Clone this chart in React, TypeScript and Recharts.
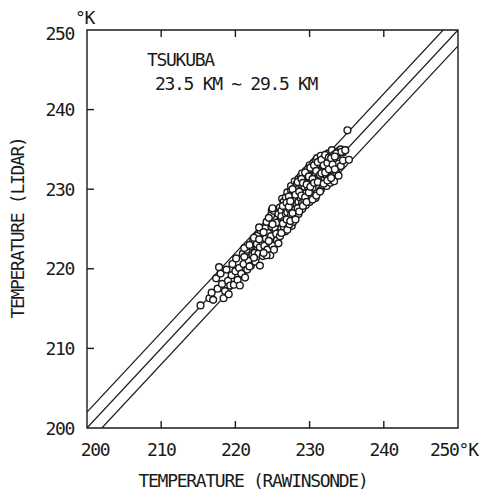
import React from 'react';
import { ScatterChart, Scatter, XAxis, YAxis, ReferenceArea } from 'recharts';

const AXIS_MIN = 200;
const AXIS_MAX = 250;
const TICKS = [200, 210, 220, 230, 240, 250];
const LINE_OFFSETS = [2, 0, -2];

const TITLE = 'TSUKUBA';
const SUBTITLE = '23.5 KM \u223C 29.5 KM';
const X_TITLE = 'TEMPERATURE (RAWINSONDE)';
const Y_TITLE = 'TEMPERATURE (LIDAR)';

// rawinsonde temperature (K)
const RAWIN: number[] = [
  215.3, 216.5, 216.8, 217.0, 217.4, 217.6, 217.8, 218.0, 218.2, 218.4, 218.6, 218.8, 219.0, 219.1, 219.3,
  219.5, 219.6, 219.8, 220.0, 220.1, 220.3, 220.5, 220.6, 220.8, 221.0, 221.1, 221.3, 221.5, 221.6, 221.8,
  222.0, 222.1, 222.3, 222.4, 222.6, 222.7, 222.9, 223.0, 223.1, 223.3, 223.4, 223.6, 223.7, 223.9, 224.0,
  224.1, 224.3, 224.4, 224.6, 224.7, 224.9, 225.0, 225.1, 225.3, 225.4, 225.6, 225.7, 225.9, 226.0, 224.9,
  223.3, 224.7,
  224.2, 224.2, 224.8, 224.8, 225.2, 225.2, 225.5, 225.5, 225.8, 225.8, 226.0, 226.0, 226.3, 226.3, 226.7, 226.7,
  227.1, 227.1, 227.6, 227.6, 227.9, 227.9,
  226.2, 226.2, 226.2, 226.2, 226.5, 226.5, 226.5, 226.8, 226.8, 226.8, 226.8,
  227.0, 227.0, 227.0, 227.0, 227.3, 227.3, 227.3, 227.3, 227.5, 227.5, 227.5, 227.5,
  227.8, 227.8, 227.8, 227.8, 228.0, 228.0, 228.0, 228.0, 228.0, 228.3, 228.3, 228.3, 228.3,
  228.5, 228.5, 228.5, 228.5, 228.5, 228.8, 228.8, 228.8, 228.8, 229.0, 229.0, 229.0, 229.0, 229.0,
  229.3, 229.3, 229.3, 229.3, 229.5, 229.5, 229.5, 229.5, 229.5, 229.8, 229.8, 229.8, 229.8,
  230.0, 230.0, 230.0, 230.0, 230.0, 230.3, 230.3, 230.3, 230.3, 230.5, 230.5, 230.5, 230.5, 230.5,
  230.8, 230.8, 230.8, 230.8, 231.0, 231.0, 231.0, 231.0, 231.0, 231.3, 231.3, 231.3, 231.3,
  231.5, 231.5, 231.5, 231.5, 231.8, 231.8, 231.8, 231.8, 232.0, 232.0, 232.0, 232.0, 232.0,
  232.3, 232.3, 232.3, 232.3, 232.5, 232.5, 232.5, 232.8, 232.8, 232.8, 233.0, 233.0, 233.0,
  233.3, 233.3, 233.3, 233.6, 233.6, 233.9, 233.9, 233.9, 234.2, 234.2, 234.5, 234.5, 234.8,
  235.1, 235.3, 233.6, 234.3, 234.8,
  226.4, 226.4, 226.9, 226.9, 227.2, 227.2, 227.4, 227.4, 227.7, 227.7, 228.1, 228.1, 228.4, 228.4,
  228.6, 228.6, 228.9, 228.9, 229.1, 229.1, 229.4, 229.4, 229.6, 229.6, 229.9, 229.9, 230.1, 230.1,
  230.4, 230.4, 230.6, 230.6, 230.9, 230.9, 231.1, 231.1, 231.4, 231.4, 231.6, 231.6, 231.9, 231.9,
  232.1, 232.1, 232.4, 232.4, 232.6, 232.6, 232.9, 232.9, 233.1, 233.4, 233.4,
  221.2, 221.2, 221.9, 221.9, 222.5, 222.5, 223.2, 223.2, 223.8, 223.8, 224.5, 224.5, 225.0, 225.0,
];

// lidar temperature (K)
const LIDAR: number[] = [
  215.4, 216.3, 217.0, 216.1, 218.8, 217.5, 220.2, 219.4, 218.1, 216.3, 217.2, 219.9, 218.5, 216.8, 217.9,
  219.2, 220.6, 218.0, 219.7, 221.3, 218.6, 220.1, 217.9, 219.4, 221.9, 220.6, 218.9, 222.4, 219.9, 221.0,
  222.8, 220.4, 221.7, 223.6, 222.0, 220.9, 223.1, 224.2, 221.9, 222.7, 224.8, 223.4, 221.6, 222.9, 225.1,
  223.8, 222.4, 224.5, 226.0, 223.2, 225.3, 222.9, 224.0, 226.4, 225.0, 223.6, 227.0, 224.6, 226.0, 227.3,
  220.4, 221.7,
  225.9, 221.7, 224.1, 226.7, 222.4, 227.3, 225.8, 224.4, 226.9, 223.2, 224.1, 227.7, 226.2, 228.8, 224.7, 227.0,
  226.0, 228.9, 225.4, 227.7, 229.8, 226.8,
  225.1, 227.3, 226.6, 224.5, 228.4, 226.0, 225.3, 227.6, 229.0, 225.8, 226.9,
  224.9, 228.2, 227.1, 229.6, 226.3, 228.8, 227.5, 225.6, 229.9, 228.0, 226.8, 230.4,
  227.2, 229.3, 225.9, 228.6, 230.1, 228.9, 227.4, 226.5, 231.0, 229.6, 228.1, 227.0, 230.7,
  231.3, 229.0, 226.9, 228.4, 230.0, 229.8, 227.8, 231.6, 228.9, 230.5, 228.3, 232.0, 227.5, 229.4,
  231.1, 229.9, 228.6, 230.3, 232.3, 230.8, 228.0, 229.5, 231.6, 230.2, 231.9, 228.9, 232.6,
  229.3, 231.4, 230.6, 233.0, 228.4, 232.1, 230.0, 231.7, 229.1, 233.3, 231.0, 229.7, 232.5, 230.4,
  231.8, 233.6, 230.1, 228.9, 232.8, 231.3, 229.5, 233.9, 230.7, 232.0, 230.2, 233.1, 231.6,
  234.2, 232.4, 229.9, 231.0, 233.5, 231.9, 230.5, 232.9, 234.0, 232.6, 230.9, 231.4, 233.2,
  233.8, 231.7, 232.3, 230.4, 234.5, 233.0, 231.2, 232.2, 233.7, 230.8, 234.9, 231.6, 232.8,
  233.4, 231.0, 234.3, 234.5, 232.1, 233.2, 234.8, 231.7, 232.9, 235.0, 234.6, 233.6, 234.9,
  237.4, 233.7, 234.5, 234.7, 234.9,
  227.9, 225.7, 228.3, 226.2, 229.1, 227.8, 226.0, 228.5, 230.0, 227.0, 229.3, 226.2, 230.9, 227.6,
  229.7, 227.2, 231.3, 229.2, 227.9, 230.8, 232.1, 229.0, 230.6, 228.4, 231.6, 229.6, 232.7, 230.3,
  228.7, 231.3, 233.0, 230.8, 229.2, 232.3, 233.4, 230.9, 231.8, 229.7, 233.7, 232.0, 230.7, 233.0,
  232.1, 234.3, 233.3, 231.1, 232.5, 234.0, 231.4, 233.9, 233.1, 232.5, 234.1,
  221.5, 222.6, 220.3, 223.0, 223.9, 221.4, 223.7, 225.2, 224.6, 222.0, 226.4, 223.5, 225.6, 227.6,
];

const points = RAWIN.map((x, i) => ({ x, y: LIDAR[i] }));

const lineData = LINE_OFFSETS.map((off) => {
  const x0 = Math.max(AXIS_MIN, AXIS_MIN - off);
  const x1 = Math.min(AXIS_MAX, AXIS_MAX - off);
  return [
    { x: x0, y: x0 + off },
    { x: x1, y: x1 + off },
  ];
});

const PLOT_TOP = 30;
const TICK_PX = 7;

const FONT = '"DejaVu Sans Mono", monospace';
const INK = '#1a1a1a';
const textStyle = { fontFamily: FONT, fontSize: 18, letterSpacing: -1.3, fill: INK };

const XTick = (props: any) => {
  const { x, y, payload } = props;
  const v = payload.value;
  const inner = v > AXIS_MIN && v < AXIS_MAX;
  return (
    <g>
      {inner && (
        <path d={`M${x},${y}V${y - TICK_PX}M${x},${PLOT_TOP}V${PLOT_TOP + TICK_PX}`} stroke={INK} strokeWidth={1.4} fill="none" />
      )}
      {v === AXIS_MAX ? (
        <text x={x - 28} y={y + 28} textAnchor="start" style={textStyle}>
          {`${v}\u00B0K`}
        </text>
      ) : (
        <text x={v === AXIS_MIN ? x + 8 : x} y={y + 28} textAnchor="middle" style={textStyle}>
          {v}
        </text>
      )}
    </g>
  );
};

const YTick = (props: any) => {
  const { x, y, payload } = props;
  const v = payload.value;
  const inner = v > AXIS_MIN && v < AXIS_MAX;
  return (
    <g>
      {inner && <path d={`M${x},${y}H${x + TICK_PX}`} stroke={INK} strokeWidth={1.4} fill="none" />}
      <text x={x - 13} y={y + 6.5 + (v === AXIS_MAX ? 3 : 0)} textAnchor="end" style={textStyle}>
        {v}
      </text>
      {v === AXIS_MAX && (
        <text x={x - 12} y={y - 6} textAnchor="start" style={textStyle}>
          {'\u00B0K'}
        </text>
      )}
    </g>
  );
};

const Dot = (props: any) => {
  const { cx, cy } = props;
  if (cx == null || cy == null) return <g />;
  return <circle cx={cx} cy={cy} r={3.4} fill="#fff" stroke={INK} strokeWidth={1.4} />;
};

export default function App() {
  return (
    <div style={{ position: 'absolute', left: 0, top: 0, width: 481, height: 497, background: '#fff' }}>
      <ScatterChart width={481} height={497} margin={{ top: PLOT_TOP, right: 23, bottom: 0, left: 0 }}>
        <ReferenceArea
          x1={AXIS_MIN}
          x2={AXIS_MAX}
          y1={AXIS_MIN}
          y2={AXIS_MAX}
          fill="none"
          fillOpacity={0}
          stroke={INK}
          strokeWidth={1.4}
          ifOverflow="visible"
        />
        {lineData.map((d, i) => (
          <Scatter
            key={i}
            data={d}
            line={{ stroke: INK, strokeWidth: 1.2 }}
            lineType="joint"
            shape={() => <g />}
            isAnimationActive={false}
          />
        ))}
        <Scatter data={points} shape={<Dot />} isAnimationActive={false} />
        <XAxis
          type="number"
          dataKey="x"
          domain={[AXIS_MIN, AXIS_MAX]}
          ticks={TICKS}
          allowDataOverflow
          height={69}
          tickSize={0}
          tickMargin={0}
          axisLine={false}
          tickLine={false}
          tick={<XTick />}
          interval={0}
        />
        <YAxis
          type="number"
          dataKey="y"
          domain={[AXIS_MIN, AXIS_MAX]}
          ticks={TICKS}
          allowDataOverflow
          width={87}
          tickSize={0}
          tickMargin={0}
          axisLine={false}
          tickLine={false}
          tick={<YTick />}
          interval={0}
        />
        <text x={147} y={66} style={textStyle}>{TITLE}</text>
        <text x={155} y={90} style={textStyle}>{SUBTITLE}</text>
        <text x={253} y={487} textAnchor="middle" style={textStyle}>{X_TITLE}</text>
        <text
          x={24}
          y={228}
          textAnchor="middle"
          transform="rotate(-90 24 228)"
          style={textStyle}
        >
          {Y_TITLE}
        </text>
      </ScatterChart>
    </div>
  );
}
